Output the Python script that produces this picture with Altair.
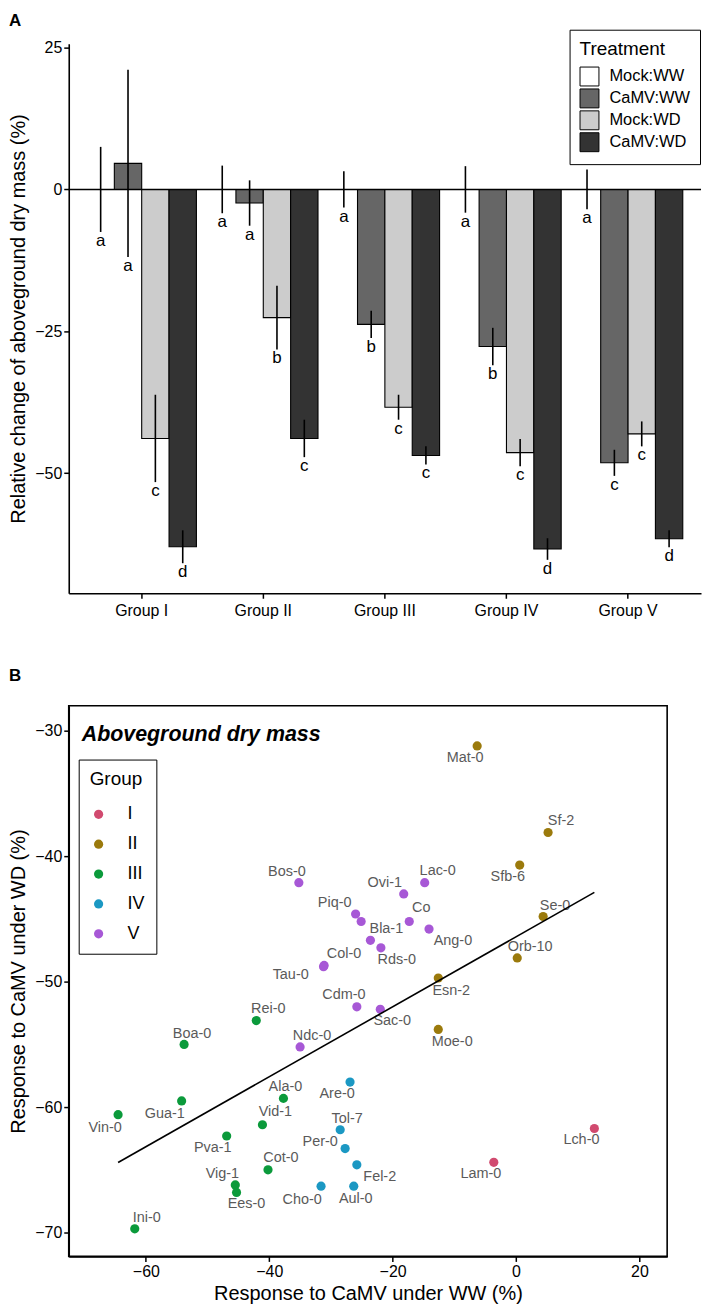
import altair as alt
import pandas as pd

FONT = "Liberation Sans"

# ---------------- Panel A data ----------------
groups = ["Group I", "Group II", "Group III", "Group IV", "Group V"]
treatments = ["Mock:WW", "CaMV:WW", "Mock:WD", "CaMV:WD"]
treat_colors = ["#FFFFFF", "#666666", "#CCCCCC", "#333333"]

mock_ww_mean = [0, 0, 0, 0, 0]
camv_ww_mean = [4.6, -2.4, -23.8, -27.7, -48.2]
mock_wd_mean = [-43.9, -22.6, -38.4, -46.4, -43.1]
camv_wd_mean = [-63.0, -43.9, -46.9, -63.4, -61.6]

mock_ww_err = [7.5, 4.2, 3.2, 4.1, 3.5]
camv_ww_err = [16.5, 4.0, 2.4, 3.3, 2.3]
mock_wd_err = [7.7, 5.6, 2.2, 2.4, 2.2]
camv_wd_err = [2.9, 3.3, 1.6, 1.9, 1.5]

mock_ww_letter = ["a", "a", "a", "a", "a"]
camv_ww_letter = ["a", "a", "b", "b", "c"]
mock_wd_letter = ["c", "b", "c", "c", "c"]
camv_wd_letter = ["d", "c", "c", "d", "d"]

# ---------------- Panel B data ----------------
accession = ["Lch-0", "Lam-0",
             "Mat-0", "Sf-2", "Sfb-6", "Se-0", "Orb-10", "Esn-2", "Moe-0",
             "Rei-0", "Boa-0", "Ala-0", "Gua-1", "Vin-0", "Vid-1", "Pva-1", "Cot-0", "Vig-1", "Ees-0", "Ini-0",
             "Are-0", "Tol-7", "Per-0", "Fel-2", "Cho-0", "Aul-0",
             "Bos-0", "Piq-0", "", "Ovi-1", "Lac-0", "Co", "Ang-0", "Bla-1", "Rds-0", "Col-0", "Tau-0",
             "Cdm-0", "Sac-0", "Ndc-0"]
group_of = ["I", "I",
            "II", "II", "II", "II", "II", "II", "II",
            "III", "III", "III", "III", "III", "III", "III", "III", "III", "III", "III",
            "IV", "IV", "IV", "IV", "IV", "IV",
            "V", "V", "V", "V", "V", "V", "V", "V", "V", "V", "V", "V", "V", "V"]
resp_ww = [12.7, -3.6,
           -6.3, 5.2, 0.6, 4.4, 0.2, -12.6, -12.6,
           -42.1, -53.8, -37.7, -54.2, -64.5, -41.1, -46.9, -40.2, -45.5, -45.3, -61.8,
           -26.9, -28.5, -27.7, -25.8, -31.6, -26.3,
           -35.2, -26.0, -25.1, -18.2, -14.8, -17.3, -14.1, -23.6, -21.9, -31.1, -31.2,
           -25.8, -22.0, -35.0]
resp_wd = [-61.7, -64.4,
           -31.2, -38.1, -40.7, -44.8, -48.1, -49.7, -53.8,
           -53.1, -55.0, -59.3, -59.5, -60.6, -61.4, -62.3, -65.0, -66.2, -66.8, -69.7,
           -58.0, -61.8, -63.3, -64.6, -66.3, -66.3,
           -42.1, -44.6, -45.2, -43.0, -42.1, -45.2, -45.8, -46.7, -47.3, -48.7, -48.8,
           -52.0, -52.2, -55.2]
group_levels = ["I", "II", "III", "IV", "V"]
group_colors = ["#D14A6F", "#9B7A0C", "#0B9A3B", "#1B98C3", "#A758D6"]

# label nudges (pixels) imitating the repelled label placement
label_nudge_x = [-13, -13,
                 -12, 13, -12, 12, 13, 13, 14,
                 12, 8, 2, -17, -13, 13, -14, 13, -13, 10, 12,
                 -13, 7, -25, 23, -19, 2,
                 -12, -21, 0, -19, 13, 12, 24, 16, 16, 20, -33,
                 -13, 12, 12]
label_nudge_y = [12, 12,
                 12, -12, 12, -11, -11, 13, 13,
                 -12, -10, -11, 13, 13, -13, 12, -12, -11, 12, -11,
                 12, -11, -7, 12, 14, 13,
                 -11, -11, 0, -11, -12, -14, 12, -11, 12, -11, 8,
                 -12, 12, -11]

# ---------------- layout ----------------
A_W, A_H = 635, 552
A_YDOM = [-71.2, 25.7]
B_W, B_H = 601, 553
B_XDOM = [-72.5, 24.5]
B_YDOM = [-71.9, -28.0]

# ---------------- build panel A ----------------
means = [mock_ww_mean, camv_ww_mean, mock_wd_mean, camv_wd_mean]
errs = [mock_ww_err, camv_ww_err, mock_wd_err, camv_wd_err]
lets = [mock_ww_letter, camv_ww_letter, mock_wd_letter, camv_wd_letter]
rows = []
for ti, t in enumerate(treatments):
    for gi, g in enumerate(groups):
        m = means[ti][gi]
        e = errs[ti][gi]
        rows.append({"group": g, "treatment": t, "mean": m,
                     "lo": m - e, "hi": m + e, "letter": lets[ti][gi]})
dfA = pd.DataFrame(rows)

xA = alt.X("group:N", sort=groups,
           scale=alt.Scale(paddingInner=0.1, paddingOuter=0.15),
           axis=alt.Axis(title=None, labelAngle=0, labelPadding=4))
xoA = alt.XOffset("treatment:N", sort=treatments,
                  scale=alt.Scale(paddingInner=0, paddingOuter=0))
yscaleA = alt.Scale(domain=A_YDOM, nice=False, zero=False)

bars = alt.Chart(dfA).mark_bar(stroke="black", strokeWidth=1.1).encode(
    x=xA, xOffset=xoA,
    y=alt.Y("mean:Q", scale=yscaleA,
            axis=alt.Axis(values=[-50, -25, 0, 25],
                          title="Relative change of aboveground dry mass (%)",
                          titlePadding=6)),
    y2=alt.datum(0),
    color=alt.Color("treatment:N", sort=treatments,
                    scale=alt.Scale(domain=treatments, range=treat_colors),
                    legend=alt.Legend(title="Treatment", orient="none",
                                      legendX=503, legendY=-14,
                                      strokeColor="black", fillColor="white",
                                      padding=10, symbolType="square",
                                      symbolSize=361, symbolStrokeColor="black",
                                      symbolStrokeWidth=1, symbolOpacity=1,
                                      labelFontSize=16.5, labelFont=FONT,
                                      titleFontSize=19, titleFont=FONT,
                                      titleFontWeight="normal", titleColor="black",
                                      labelColor="black",
                                      rowPadding=-4, titlePadding=8, labelOffset=10)),
)

zero_line = alt.Chart(pd.DataFrame({"z": [0]})).mark_rule(
    color="black", strokeWidth=1.5).encode(y=alt.Y("z:Q", scale=yscaleA))

errbars = alt.Chart(dfA).mark_rule(color="black", strokeWidth=1.6).encode(
    x=xA, xOffset=xoA, y=alt.Y("lo:Q", scale=yscaleA), y2="hi:Q")

letters = alt.Chart(dfA).mark_text(fontSize=17, font=FONT, color="black",
                                   baseline="middle", dy=9).encode(
    x=xA, xOffset=xoA, y=alt.Y("lo:Q", scale=yscaleA), text="letter:N")

tagA = alt.Chart(pd.DataFrame({"t": ["A"]})).mark_text(
    fontSize=17, font=FONT, fontWeight="bold", align="left", baseline="top",
    color="black").encode(x=alt.value(-60), y=alt.value(-31), text="t:N")

panelA = alt.layer(bars, zero_line, errbars, letters, tagA).properties(
    width=A_W, height=A_H)

# ---------------- build panel B ----------------
px_x = (B_XDOM[1] - B_XDOM[0]) / B_W
px_y = (B_YDOM[1] - B_YDOM[0]) / B_H
dfB = pd.DataFrame({"name": accession, "group": group_of,
                    "ww": resp_ww, "wd": resp_wd,
                    "nx": label_nudge_x, "ny": label_nudge_y})
dfB["lx"] = dfB["ww"] + dfB["nx"] * px_x
dfB["ly"] = dfB["wd"] - dfB["ny"] * px_y

xscaleB = alt.Scale(domain=B_XDOM, nice=False, zero=False)
yscaleB = alt.Scale(domain=B_YDOM, nice=False, zero=False)
xB = alt.X("ww:Q", scale=xscaleB,
           axis=alt.Axis(values=[-60, -40, -20, 0, 20],
                         title="Response to CaMV under WW (%)", titlePadding=4))
yB = alt.Y("wd:Q", scale=yscaleB,
           axis=alt.Axis(values=[-70, -60, -50, -40, -30],
                         title="Response to CaMV under WD (%)", titlePadding=6))

pts = alt.Chart(dfB).mark_circle(size=85, opacity=1).encode(
    x=xB, y=yB,
    color=alt.Color("group:N", sort=group_levels,
                    scale=alt.Scale(domain=group_levels, range=group_colors),
                    legend=alt.Legend(title="Group", orient="none",
                                      legendX=10, legendY=54,
                                      strokeColor="black", fillColor="white",
                                      padding=11, symbolType="circle",
                                      symbolSize=85, symbolStrokeWidth=0,
                                      symbolOpacity=1,
                                      labelFontSize=18, labelFont=FONT,
                                      titleFontSize=19, titleFont=FONT,
                                      titleFontWeight="normal", titleColor="black",
                                      labelColor="black",
                                      rowPadding=12, titlePadding=16, labelOffset=20)),
)

labels = alt.Chart(dfB).mark_text(fontSize=14.5, font=FONT, color="#5a5a5a",
                                  baseline="middle").encode(
    x=alt.X("lx:Q", scale=xscaleB), y=alt.Y("ly:Q", scale=yscaleB), text="name:N")

fit = alt.Chart(dfB).transform_regression("ww", "wd").mark_line(
    color="black", strokeWidth=1.6).encode(
    x=alt.X("ww:Q", scale=xscaleB), y=alt.Y("wd:Q", scale=yscaleB))

inner_title = alt.Chart(pd.DataFrame({"t": ["Aboveground dry mass"]})).mark_text(
    fontSize=21.5, font=FONT, fontStyle="italic", fontWeight="bold",
    align="left", baseline="middle", color="black").encode(
    x=alt.value(13), y=alt.value(29), text="t:N")

tagB = alt.Chart(pd.DataFrame({"t": ["B"]})).mark_text(
    fontSize=17, font=FONT, fontWeight="bold", align="left", baseline="top",
    color="black").encode(x=alt.value(-60), y=alt.value(-38), text="t:N")

panelB = alt.layer(pts, labels, fit, inner_title, tagB).properties(
    width=B_W, height=B_H,
    view=alt.ViewBackground(stroke="black", strokeWidth=1.6))

chart = alt.vconcat(panelA, panelB, spacing=47).resolve_scale(
    color="independent"
).resolve_legend(color="independent").properties(
    padding=0
).configure_view(stroke="transparent").configure_axis(
    domainColor="black", domainWidth=1.6, tickColor="black", tickWidth=1.5,
    tickSize=5, labelColor="black", labelFontSize=16, labelFont=FONT,
    titleFontSize=20, titleFont=FONT, titleFontWeight="normal",
    titleColor="black", grid=False
)

chart.save("out.html", embed_options={"renderer": "svg", "actions": False})
